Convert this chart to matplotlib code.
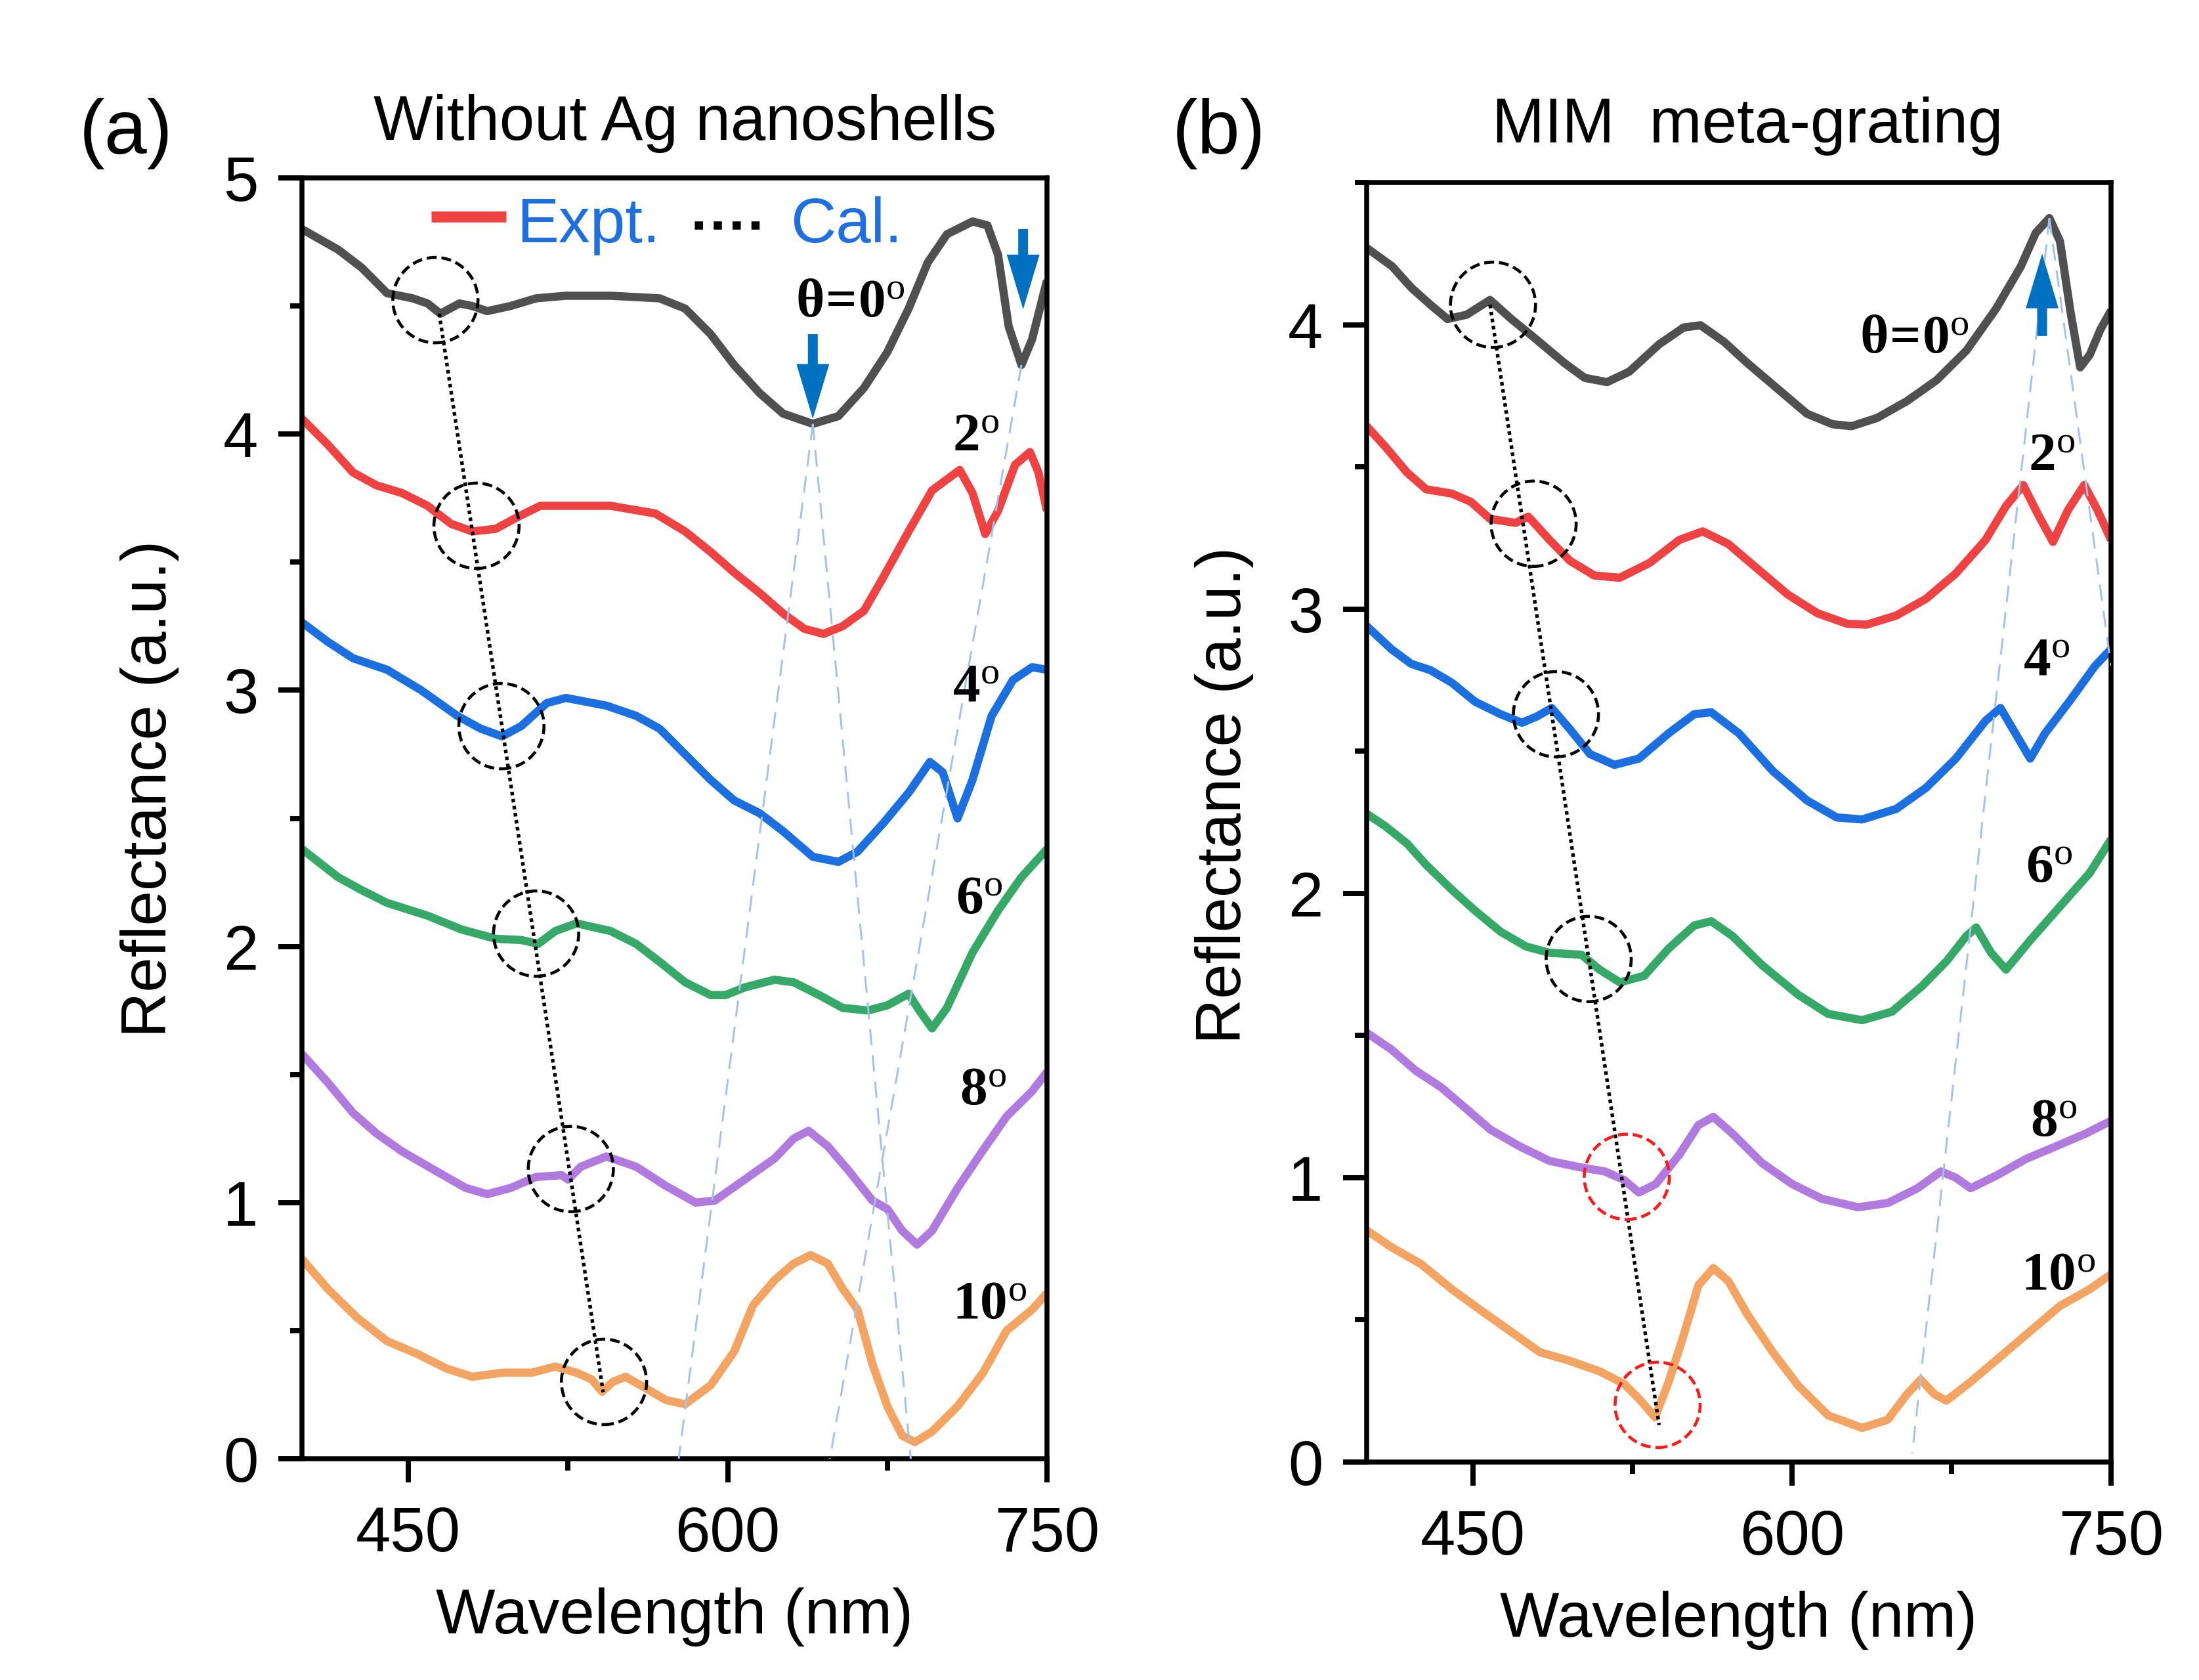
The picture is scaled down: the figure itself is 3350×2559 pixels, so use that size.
import matplotlib
matplotlib.use('Agg')
import matplotlib.pyplot as plt
from matplotlib.patches import Ellipse
from matplotlib.ticker import MultipleLocator, FixedLocator

plt.rcParams['font.family'] = ['Liberation Sans', 'DejaVu Sans']
plt.rcParams['mathtext.fontset'] = 'custom'
plt.rcParams['mathtext.rm'] = 'Liberation Serif'
plt.rcParams['mathtext.bf'] = 'Liberation Serif:bold'
plt.rcParams['mathtext.it'] = 'Liberation Serif:italic'

# ---------------- data ----------------
colors = ['#505050', '#ef4242', '#1b6fde', '#36a867', '#b07ade', '#f4a462']
angle_labels = [r'$\mathbf{\theta}\!\mathbf{=}\!\mathbf{0}^{\mathrm{o}}$', r'$\mathbf{2}^{\mathrm{o}}$',
                r'$\mathbf{4}^{\mathrm{o}}$', r'$\mathbf{6}^{\mathrm{o}}$', r'$\mathbf{8}^{\mathrm{o}}$',
                r'$\mathbf{10}^{\mathrm{o}}$']

# Panel (a): without Ag nanoshells
a_wl_0 = [400, 417, 428, 440, 452, 459, 465, 474, 480, 487, 498, 510, 524, 545, 568, 580, 592, 603, 615, 626, 640,
          652, 664, 675, 685, 694, 703, 715, 722, 727, 732, 738, 743, 750]
a_r_0 = [4.80, 4.72, 4.65, 4.55, 4.53, 4.51, 4.47, 4.51, 4.50, 4.48, 4.50, 4.53, 4.54, 4.54, 4.53, 4.49, 4.39, 4.27,
         4.16, 4.08, 4.04, 4.07, 4.18, 4.32, 4.49, 4.67, 4.78, 4.83, 4.815, 4.70, 4.42, 4.27, 4.37, 4.60]
a_wl_2 = [400, 412, 424, 435, 447, 459, 470, 480, 491, 501, 512, 522, 545, 566, 580, 592, 603, 615, 626, 636, 645,
          654, 664, 673, 685, 696, 709, 715, 721, 727, 735, 742, 746, 750]
a_r_2 = [4.06, 3.96, 3.85, 3.80, 3.77, 3.72, 3.65, 3.62, 3.63, 3.675, 3.72, 3.72, 3.72, 3.69, 3.62, 3.54, 3.46, 3.38,
         3.30, 3.24, 3.22, 3.25, 3.31, 3.44, 3.62, 3.78, 3.86, 3.77, 3.61, 3.70, 3.88, 3.93, 3.85, 3.70]
a_wl_4 = [400, 412, 424, 440, 456, 473, 484, 494, 503, 515, 524, 543, 557, 568, 580, 592, 603, 615, 626, 640, 652,
          661, 673, 685, 695, 701, 708, 715, 724, 734, 743, 750]
a_r_4 = [3.265, 3.19, 3.125, 3.08, 3.00, 2.90, 2.85, 2.82, 2.86, 2.95, 2.97, 2.94, 2.90, 2.85, 2.75, 2.65, 2.57, 2.52,
         2.45, 2.35, 2.33, 2.37, 2.48, 2.60, 2.72, 2.68, 2.50, 2.65, 2.90, 3.04, 3.09, 3.08]
a_wl_6 = [400, 417, 428, 440, 459, 475, 491, 503, 511, 519, 529, 545, 557, 568, 580, 592, 599, 608, 622, 631, 643,
          654, 666, 675, 685, 690, 696, 703, 715, 727, 738, 750]
a_r_6 = [2.38, 2.27, 2.22, 2.17, 2.12, 2.066, 2.03, 2.025, 2.01, 2.06, 2.09, 2.06, 2.01, 1.94, 1.86, 1.81, 1.81, 1.84,
         1.87, 1.86, 1.81, 1.76, 1.75, 1.77, 1.815, 1.75, 1.68, 1.76, 1.976, 2.14, 2.27, 2.38]
a_wl_8 = [400, 412, 424, 435, 447, 463, 477, 487, 498, 510, 522, 525, 531, 543, 557, 571, 585, 594, 608, 622, 631,
          638, 647, 657, 668, 675, 682, 689, 696, 708, 720, 731, 743, 750]
a_r_8 = [1.58, 1.47, 1.35, 1.27, 1.20, 1.123, 1.057, 1.033, 1.057, 1.10, 1.107, 1.09, 1.14, 1.18, 1.14, 1.065, 1.00,
         1.008, 1.09, 1.172, 1.25, 1.28, 1.22, 1.123, 1.008, 0.975, 0.89, 0.836, 0.89, 1.057, 1.205, 1.336, 1.435, 1.51]
a_wl_10 = [400, 412, 426, 440, 454, 468, 480, 494, 508, 519, 529, 536, 541, 546, 552, 561, 571, 580, 592, 603, 612,
           622, 631, 639, 647, 654, 661, 668, 675, 682, 688, 696, 708, 720, 731, 743, 750]
a_r_10 = [0.78, 0.664, 0.55, 0.459, 0.41, 0.352, 0.32, 0.336, 0.336, 0.36, 0.336, 0.31, 0.262, 0.30, 0.32, 0.278,
          0.229, 0.213, 0.287, 0.418, 0.60, 0.697, 0.762, 0.795, 0.762, 0.664, 0.582, 0.37, 0.205, 0.09, 0.065, 0.106,
          0.205, 0.336, 0.50, 0.582, 0.647]

# Panel (b): MIM meta-grating
b_wl_0 = [400, 412, 421, 430, 438, 447, 458, 468, 479, 493, 502.5, 513, 523.5, 537.5, 549, 557, 568, 579, 593, 607,
          619, 628, 640, 654, 668, 682, 696, 707.6, 714.6, 721, 726, 731, 735.5, 740, 745, 750]
b_r_0 = [4.27, 4.205, 4.13, 4.07, 4.02, 4.035, 4.087, 4.02, 3.953, 3.865, 3.813, 3.798, 3.835, 3.931, 3.99, 3.998,
         3.94, 3.865, 3.776, 3.687, 3.65, 3.643, 3.672, 3.731, 3.805, 3.909, 4.057, 4.205, 4.323, 4.375, 4.293, 4.042,
         3.85, 3.894, 3.983, 4.05]
b_wl_2 = [400, 409, 419, 428, 440, 449, 458, 470, 476, 486, 495.5, 507, 519, 533, 547, 558, 570, 584, 598, 612, 626,
          635, 649, 663, 677, 691, 700.6, 708.7, 715.7, 722.7, 729.7, 737.4, 743.7, 750]
b_r_2 = [3.643, 3.569, 3.48, 3.421, 3.406, 3.377, 3.317, 3.303, 3.325, 3.243, 3.17, 3.118, 3.11, 3.162, 3.243, 3.273,
         3.229, 3.14, 3.051, 2.985, 2.948, 2.945, 2.977, 3.036, 3.125, 3.243, 3.362, 3.436, 3.332, 3.236, 3.347, 3.436,
         3.347, 3.243]
b_wl_4 = [400, 411.6, 421, 430, 440, 451, 463, 473, 480, 487, 495.5, 505, 516.5, 528, 542, 554, 562, 575, 591, 607,
          621, 633, 649, 663, 677, 691, 698, 705, 712, 719, 731, 742.5, 750]
b_r_4 = [2.94, 2.859, 2.807, 2.785, 2.741, 2.674, 2.63, 2.60, 2.622, 2.652, 2.578, 2.49, 2.452, 2.474, 2.563, 2.63,
         2.637, 2.563, 2.43, 2.327, 2.267, 2.26, 2.297, 2.371, 2.474, 2.607, 2.652, 2.563, 2.474, 2.563, 2.681, 2.80,
         2.859]
b_wl_6 = [400, 409, 419, 428, 440, 451, 463, 475, 486, 501, 509.5, 519, 530.5, 542, 554, 562, 572, 586, 603, 617, 633,
          647, 661, 672.6, 682, 686.6, 693.6, 700.6, 712, 726, 740, 750]
b_r_6 = [2.28, 2.235, 2.175, 2.10, 2.013, 1.939, 1.865, 1.813, 1.791, 1.784, 1.732, 1.687, 1.71, 1.806, 1.887, 1.902,
         1.85, 1.747, 1.643, 1.576, 1.554, 1.584, 1.673, 1.761, 1.85, 1.88, 1.791, 1.732, 1.835, 1.954, 2.072, 2.19]
b_wl_8 = [400, 411.6, 423, 435, 446.6, 458, 472, 486, 500, 512, 521, 528, 536, 547, 556, 563, 572, 586, 600, 614, 631,
          645, 659, 670, 677, 684, 696, 710, 724, 738, 750]
b_r_8 = [1.51, 1.451, 1.377, 1.318, 1.244, 1.17, 1.11, 1.059, 1.037, 1.022, 0.992, 0.948, 0.978, 1.081, 1.185, 1.214,
         1.155, 1.051, 0.978, 0.926, 0.896, 0.911, 0.963, 1.022, 1.0, 0.963, 1.007, 1.066, 1.11, 1.155, 1.20]
b_wl_10 = [400, 411.6, 425.6, 440, 453.6, 467.6, 481.5, 495.5, 509.5, 521, 528, 535.6, 542, 549, 556, 563, 570, 579,
           591, 603, 617, 633, 645, 654, 660.5, 667, 672.6, 684, 698, 712, 726, 740, 750]
b_r_10 = [0.815, 0.756, 0.696, 0.608, 0.534, 0.46, 0.386, 0.356, 0.319, 0.275, 0.223, 0.157, 0.282, 0.445, 0.622,
          0.682, 0.637, 0.519, 0.386, 0.268, 0.164, 0.12, 0.149, 0.238, 0.29, 0.238, 0.216, 0.282, 0.371, 0.46, 0.549,
          0.608, 0.66]

# annotation data
a_circles = [(462.7, 4.523), (482, 3.642), (493.7, 2.86), (510, 2.05), (526.3, 1.131), (541.9, 0.30)]
a_circle_colors = ['k'] * 6
b_circles = [(459.4, 4.07), (478.5, 3.30), (489, 2.63), (504.4, 1.769), (522.3, 1.003), (536.8, 0.201)]
b_circle_colors = ['k', 'k', 'k', 'k', '#ff1a1a', '#ff1a1a']
a_dotted = ([464.5, 541.5], [4.47, 0.26])
b_dotted = ([458, 537.5], [4.07, 0.13])
a_dashed = [([640, 577], [4.04, 0.0]), ([640, 686], [4.04, 0.0]), ([738, 648], [4.27, 0.0])]
b_dashed = [([721, 656.5], [4.375, 0.03]), ([721, 750], [4.375, 2.80])]
a_arrows = [(640, 4.39, 4.06), (738.8, 4.80, 4.487)]   # x, tail, tip
b_arrows = [(717.6, 3.96, 4.25)]
a_label_pos = [(632, 4.46), (705.7, 3.937), (705.7, 2.96), (707, 2.13), (709, 1.385), (705.7, 0.549)]
b_label_pos = [(631.8, 3.902), (711, 3.488), (708.7, 2.77), (710, 2.04), (712, 1.148), (707.6, 0.608)]

a_series = [(a_wl_0, a_r_0), (a_wl_2, a_r_2), (a_wl_4, a_r_4), (a_wl_6, a_r_6), (a_wl_8, a_r_8), (a_wl_10, a_r_10)]
b_series = [(b_wl_0, b_r_0), (b_wl_2, b_r_2), (b_wl_4, b_r_4), (b_wl_6, b_r_6), (b_wl_8, b_r_8), (b_wl_10, b_r_10)]

# ---------------- figure ----------------
W, H = 3350, 2559
fig = plt.figure(figsize=(W / 300, H / 300), dpi=300)
axA = fig.add_axes([460 / W, 1 - 2222 / H, 1135 / W, 1951 / H])
axB = fig.add_axes([2082 / W, 1 - 2227 / H, 1134 / W, 1949 / H])

FS = 23
dash_blue = '#a6c1e8'
arrow_blue = '#0070c0'


def style_axes(ax, ymax, ylabel_x, ylabel_y, xlabel_y):
    ax.set_xlim(400, 750)
    ax.set_ylim(0, ymax)
    ax.xaxis.set_major_locator(FixedLocator([450, 600, 750]))
    ax.xaxis.set_minor_locator(MultipleLocator(75))
    ax.yaxis.set_major_locator(MultipleLocator(1))
    ax.yaxis.set_minor_locator(MultipleLocator(0.5))
    for s in ax.spines.values():
        s.set_linewidth(1.8)
    ax.tick_params(which='major', direction='out', length=8.6, width=1.9, labelsize=FS,
                   top=False, right=False)
    ax.tick_params(which='minor', direction='out', length=4.3, width=1.9, top=False, right=False)
    ax.tick_params(axis='x', which='major', pad=8.4)
    ax.tick_params(axis='y', which='major', pad=7.4)
    ax.set_xlabel('Wavelength (nm)', fontsize=FS)
    ax.set_ylabel('Reflectance (a.u.)', fontsize=FS)
    ax.xaxis.label.set_va('center')
    ax.yaxis.label.set_va('center')
    ax.xaxis.set_label_coords(0.5, xlabel_y)
    ax.yaxis.set_label_coords(ylabel_x, ylabel_y)


def draw_panel(ax, series, circles, ccolors, dotted, dashed, arrows, label_pos, ry):
    for (wl, r), c in zip(series, colors):
        ax.plot(wl, r, color=c, lw=3.0, solid_joinstyle='round', solid_capstyle='butt', zorder=2)
    for xs, ys in dashed:
        ax.plot(xs, ys, color=dash_blue, lw=0.7, linestyle=(0, (8.6, 5.2)), zorder=3)
    ax.plot(dotted[0], dotted[1], color='k', lw=1.3, linestyle=(0, (1, 1)), zorder=4)
    for (cx, cy), cc in zip(circles, ccolors):
        e = Ellipse((cx, cy), width=40.0, height=2 * ry, fill=False, edgecolor=cc, lw=1.1,
                    linestyle=(0, (3.3, 1.6)), zorder=5)
        ax.add_patch(e)
    for x, tail, tip in arrows:
        ax.annotate('', xy=(x, tip), xytext=(x, tail),
                    arrowprops=dict(arrowstyle='simple,head_length=2.0,head_width=1.2,tail_width=0.36',
                                    color=arrow_blue, shrinkA=0, shrinkB=0, mutation_scale=10, lw=0),
                    zorder=6)
    for (lx, ly), lab in zip(label_pos, angle_labels):
        ax.text(lx, ly, lab, fontsize=20, ha='left', va='baseline', zorder=7)


draw_panel(axA, a_series, a_circles, a_circle_colors, a_dotted, a_dashed, a_arrows, a_label_pos, 0.1666)
draw_panel(axB, b_series, b_circles, b_circle_colors, b_dotted, b_dashed, b_arrows, b_label_pos, 0.150)

style_axes(axA, 5, -0.204, 0.523, -0.1235)
style_axes(axB, 4.5, -0.191, 0.521, -0.1237)

# legend in panel (a)
axA.plot([0.174, 0.274], [0.970, 0.970], transform=axA.transAxes, color=colors[1], lw=4.0,
         solid_capstyle='butt', zorder=8)
axA.text(0.288, 0.9498, 'Expt.', transform=axA.transAxes, color='#1f6fdf', fontsize=FS,
         ha='left', va='baseline', zorder=8)
axA.plot([0.527, 0.627], [0.963, 0.963], transform=axA.transAxes, color='k', lw=3.0,
         linestyle=(0, (1, 1.3)), dash_capstyle='butt', zorder=8)
axA.text(0.656, 0.9498, 'Cal.', transform=axA.transAxes, color='#1f6fdf', fontsize=FS,
         ha='left', va='baseline', zorder=8)

# titles and panel letters
fig.text(1044 / W, 1 - 213 / H, 'Without Ag nanoshells', fontsize=FS, ha='center', va='baseline')
fig.text(2662 / W, 1 - 217 / H, 'MIM  meta-grating', fontsize=FS, ha='center', va='baseline')
fig.text(192 / W, 1 - 204 / H, '(a)', fontsize=28, ha='center', va='center')
fig.text(1857 / W, 1 - 204 / H, '(b)', fontsize=28, ha='center', va='center')

fig.savefig('out.png', dpi=300)
